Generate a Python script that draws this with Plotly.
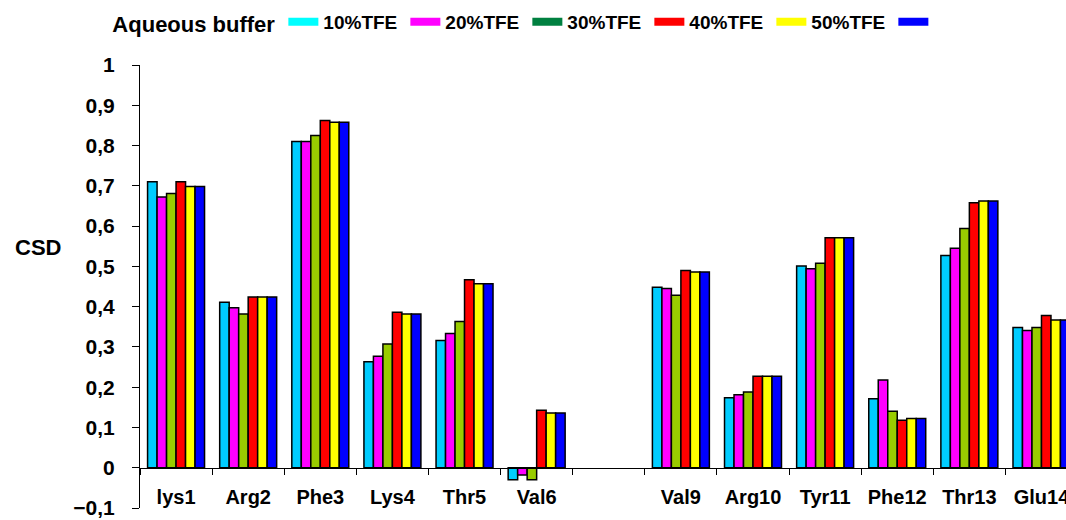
import plotly.graph_objects as go

# Residues along the peptide (blank slot separates Val6 and Val9)
residues = ["lys1", "Arg2", "Phe3", "Lys4", "Thr5", "Val6", " ",
            "Val9", "Arg10", "Tyr11", "Phe12", "Thr13", "Glu14"]

# Chemical shift deviation per condition
aqueous = [0.710, 0.411, 0.810, 0.263, 0.316, -0.030, None, 0.448, 0.174, 0.501, 0.171, 0.527, 0.348]
tfe10   = [0.672, 0.397, 0.810, 0.277, 0.333, -0.018, None, 0.445, 0.181, 0.494, 0.218, 0.545, 0.341]
tfe20   = [0.681, 0.382, 0.825, 0.307, 0.363, -0.030, None, 0.428, 0.188, 0.508, 0.140, 0.594, 0.348]
tfe30   = [0.710, 0.424, 0.862, 0.386, 0.467, 0.143, None, 0.490, 0.227, 0.571, 0.118, 0.658, 0.378]
tfe40   = [0.698, 0.424, 0.858, 0.382, 0.457, 0.136, None, 0.486, 0.227, 0.571, 0.122, 0.662, 0.367]
tfe50   = [0.698, 0.424, 0.858, 0.382, 0.457, 0.136, None, 0.486, 0.227, 0.571, 0.122, 0.662, 0.367]

series_names = ["Aqueous buffer", "10%TFE", "20%TFE", "30%TFE", "40%TFE", "50%TFE"]
series_values = [aqueous, tfe10, tfe20, tfe30, tfe40, tfe50]
bar_colors = ["#00CCFF", "#FF00FF", "#99CC00", "#FF0000", "#FFFF00", "#0000FF"]

# Legend keys as drawn in the header row
key_labels = ["10%TFE", "20%TFE", "30%TFE", "40%TFE", "50%TFE", ""]
key_colors = ["#00FFFF", "#FF00FF", "#008040", "#FF0000", "#FFFF00", "#0000FF"]

FONT = "Arial, Liberation Sans, sans-serif"

fig = go.Figure()
for name, vals, col in zip(series_names, series_values, bar_colors):
    fig.add_trace(go.Bar(
        x=residues, y=vals, name=name, showlegend=False,
        marker=dict(color=col, line=dict(color="black", width=1.5)),
    ))

for lab, col in zip(key_labels, key_colors):
    fig.add_trace(go.Scatter(
        x=[None], y=[None], mode="lines", name=lab,
        line=dict(color=col, width=8), showlegend=True,
    ))

fig.update_layout(
    width=1066, height=520,
    margin=dict(l=140, r=0, t=65, b=12, autoexpand=False),
    paper_bgcolor="white", plot_bgcolor="white",
    barmode="group", bargap=0.21, bargroupgap=0,
    separators=", ",
    font=dict(family=FONT, size=18, color="black"),
    legend=dict(
        orientation="h", x=-0.032, xanchor="left", y=1.14, yanchor="top",
        title=dict(text="<b>Aqueous buffer</b>", font=dict(size=22, family=FONT), side="left"),
        font=dict(size=19, family=FONT, weight="bold"),
        itemwidth=30, tracegroupgap=0, bgcolor="rgba(0,0,0,0)",
        entrywidth=77, entrywidthmode="pixels",
    ),
    xaxis=dict(
        type="category", range=[-0.5, 12.34],
        anchor="free", position=0.0903,
        showline=True, linecolor="black", linewidth=1,
        ticks="outside", tickson="boundaries", ticklen=6, tickcolor="black",
        tickfont=dict(size=20, family=FONT, weight="bold"),
        ticklabelstandoff=11,
        showgrid=False, zeroline=False, fixedrange=True,
    ),
    yaxis=dict(
        range=[-0.1, 1.0], dtick=0.1, tick0=0,
        showline=True, linecolor="black", linewidth=1,
        ticks="outside", ticklen=7, tickcolor="black",
        tickfont=dict(size=21, family=FONT, weight="bold"),
        ticklabelstandoff=13,
        showgrid=False, zeroline=False,
    ),
    annotations=[dict(
        text="<b>CSD</b>", xref="paper", yref="paper",
        x=(38 - 140) / 926, y=(508 - 247) / 443,
        xanchor="center", yanchor="middle", showarrow=False,
        font=dict(size=22, family=FONT),
    )],
)

fig.write_html("out.html")
